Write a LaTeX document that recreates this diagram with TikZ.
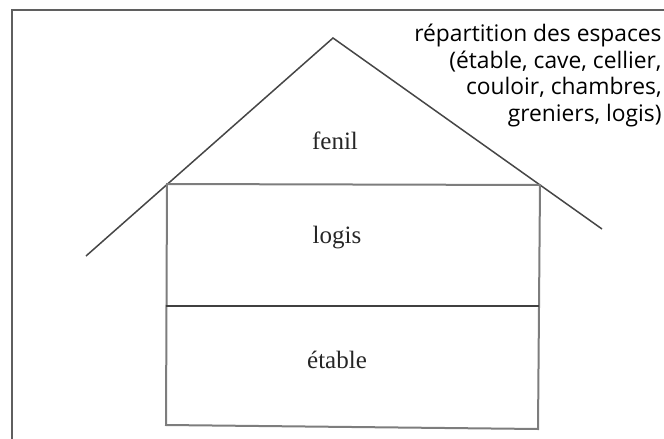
\documentclass[tikz,border=0pt]{standalone}
\usepackage{fontspec}
\setmainfont{Liberation Serif}
\newfontfamily\notefont{Open Sans}
\definecolor{framegray}{RGB}{95,95,95}
\definecolor{roofgray}{RGB}{70,70,70}
\definecolor{wallgray}{RGB}{125,125,125}
\tikzset{
  roofline/.style={draw=roofgray, line width=0.75},
  wallline/.style={draw=wallgray, line width=1},
  roomlabel/.style={font=\fontsize{12.5}{14}\selectfont, text=black!85},
}
\begin{document}
\begin{tikzpicture}[x=0.5pt,y=0.5pt,yscale=-1,xscale=1]
\useasboundingbox (0,0) rectangle (664,439);

%Frame
\draw [draw=framegray, line width=0.8]  (12,439) -- (12,10) -- (664,10) ;

%Roof
\draw [roofline]  (86,256) -- (333,38) -- (602,229) ;

%Walls
\draw [wallline]  (167,184) -- (540,185) -- (538,429) -- (166,425) -- cycle ;
%Straight Lines
\draw [draw=black!75, line width=1]  (166,306) -- (539,306) ;

% Text Node
\node [roomlabel] (fenil) at (335,141) {fenil};
% Text Node
\node [roomlabel] (logis) at (337,238) {logis};
% Text Node
\node [roomlabel] (etable) at (337,360) {étable};

% Text Node
\node [anchor=north east, align=right, inner sep=0pt, font=\notefont\fontsize{11.4}{13.2}\selectfont] (note) at (662,24)
  {répartition des espaces\\(étable, cave, cellier,\\couloir, chambres,\\greniers, logis)};

\end{tikzpicture}
\end{document}
